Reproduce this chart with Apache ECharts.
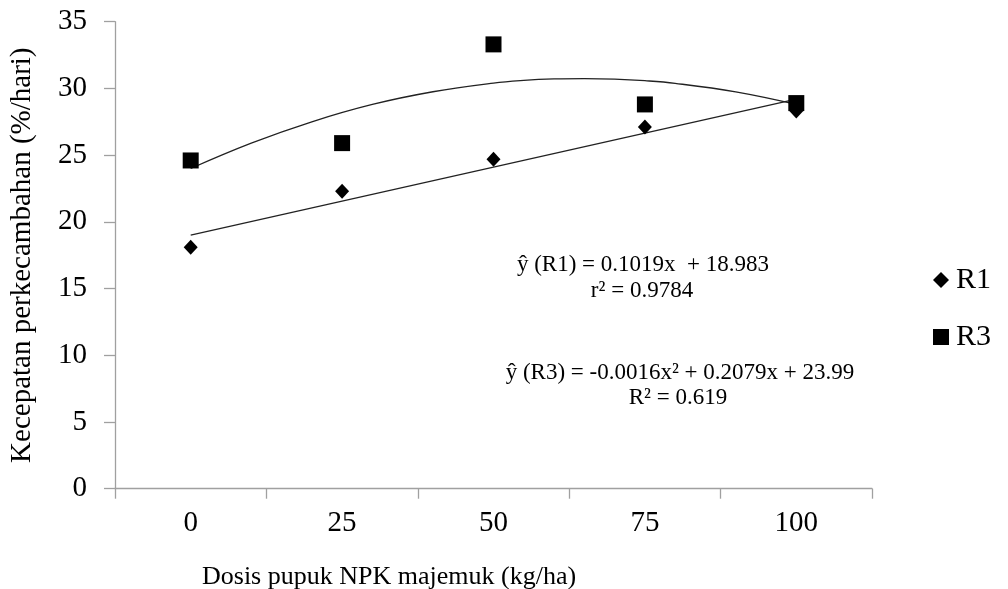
<!DOCTYPE html>
<html>
<head>
<meta charset="utf-8">
<script src="https://cdn.jsdelivr.net/npm/echarts@6/dist/echarts.min.js"></script>
<style>
html,body{margin:0;padding:0;background:#fff;}
#chart{width:1008px;height:589px;}
</style>
</head>
<body>
<div id="chart"></div>
<script>
// Doses (kg/ha)
var doses = [0, 25, 50, 75, 100];
// Observed values
var r1Values = [18.1, 22.3, 24.7, 27.1, 28.3];
var r3Values = [24.6, 25.9, 33.3, 28.8, 28.9];
// Trend lines
var r1TrendX = [0, 100];
var r1TrendY = [19.0, 29.2];
var r3TrendX = [0, 10, 20, 30, 40, 50, 55, 60, 65, 70, 75, 80, 90, 100];
var r3TrendY = [24.0, 25.9, 27.5, 28.8, 29.75, 30.4, 30.6, 30.71, 30.74, 30.7, 30.58, 30.38, 29.74, 28.8];
// Axis ticks
var xTickValues = [-12.5, 12.5, 37.5, 62.5, 87.5, 112.5];
var xLabelValues = [0, 25, 50, 75, 100];
var seriesNames = ['R1', 'R3'];
var eqR1 = ['ŷ (R1) = 0.1019x  + 18.983', 'r² = 0.9784'];
var eqR3 = ['ŷ (R3) = -0.0016x² + 0.2079x + 23.99', 'R² = 0.619'];
var xTitle = 'Dosis pupuk NPK majemuk (kg/ha)';
var yTitle = 'Kecepatan perkecambahan (%/hari)';

function pairs(xs, ys) { return xs.map(function (x, i) { return [x, ys[i]]; }); }

var FONT = '"Liberation Serif", "Times New Roman", serif';
var chart = echarts.init(document.getElementById('chart'));
chart.setOption({
  animation: false,
  backgroundColor: '#fff',
  textStyle: { fontFamily: FONT, color: '#000' },
  grid: { left: 112, right: 136, top: 21.7, bottom: 100.3 },
  xAxis: {
    type: 'value', min: -12.5, max: 112.5,
    splitLine: { show: false },
    axisLine: { onZero: false, lineStyle: { color: '#a0a0a0', width: 1.3 } },
    axisTick: { show: true, length: 10, customValues: xTickValues, lineStyle: { color: '#a0a0a0', width: 1.3 } },
    axisLabel: { customValues: xLabelValues, fontSize: 29, color: '#000', fontFamily: FONT, margin: 20 }
  },
  yAxis: {
    type: 'value', min: 0, max: 35, interval: 5,
    name: yTitle, nameLocation: 'middle', nameGap: 78, nameRotate: 90,
    nameTextStyle: { fontSize: 29, color: '#000', fontFamily: FONT },
    splitLine: { show: false },
    axisLine: { show: true, onZero: false, lineStyle: { color: '#a0a0a0', width: 1.3 } },
    axisTick: { show: true, length: 11, lineStyle: { color: '#a0a0a0', width: 1.3 } },
    axisLabel: { fontSize: 29, color: '#000', fontFamily: FONT, margin: 28 }
  },
  legend: {
    orient: 'vertical', left: 928, top: 260, itemGap: 27,
    itemWidth: 16, itemHeight: 16,
    textStyle: { fontSize: 30, color: '#000', fontFamily: FONT, padding: [0, 0, 0, 2] },
    data: [
      { name: seriesNames[0], icon: 'diamond', itemStyle: { color: '#000', opacity: 1 } },
      { name: seriesNames[1], icon: 'rect', itemStyle: { color: '#000', opacity: 1 } }
    ]
  },
  series: [
    {
      name: 'trendR1', type: 'line', data: pairs(r1TrendX, r1TrendY),
      symbol: 'none', lineStyle: { color: '#222', width: 1.3 }, z: 1, silent: true
    },
    {
      name: 'trendR3', type: 'line', data: pairs(r3TrendX, r3TrendY), smooth: 0.4,
      symbol: 'none', lineStyle: { color: '#222', width: 1.3 }, z: 1, silent: true
    },
    {
      name: seriesNames[0], type: 'scatter', data: pairs(doses, r1Values),
      symbol: 'diamond', symbolSize: [14, 15], itemStyle: { color: '#000', opacity: 1 }, z: 3
    },
    {
      name: seriesNames[1], type: 'scatter', data: pairs(doses, r3Values),
      symbol: 'rect', symbolSize: 16, itemStyle: { color: '#000', opacity: 1 }, z: 4
    }
  ],
  graphic: [
    { type: 'text', x: 643, y: 265, style: { text: eqR1[0], font: '23px ' + FONT, fill: '#000', align: 'center', verticalAlign: 'middle' } },
    { type: 'text', x: 642, y: 291, style: { text: eqR1[1], font: '23px ' + FONT, fill: '#000', align: 'center', verticalAlign: 'middle' } },
    { type: 'text', x: 680, y: 373, style: { text: eqR3[0], font: '23px ' + FONT, fill: '#000', align: 'center', verticalAlign: 'middle' } },
    { type: 'text', x: 678, y: 398, style: { text: eqR3[1], font: '23px ' + FONT, fill: '#000', align: 'center', verticalAlign: 'middle' } },
    { type: 'text', x: 202, y: 577, style: { text: xTitle, font: '26px ' + FONT, fill: '#000', align: 'left', verticalAlign: 'middle' } }
  ]
});
</script>
</body>
</html>
